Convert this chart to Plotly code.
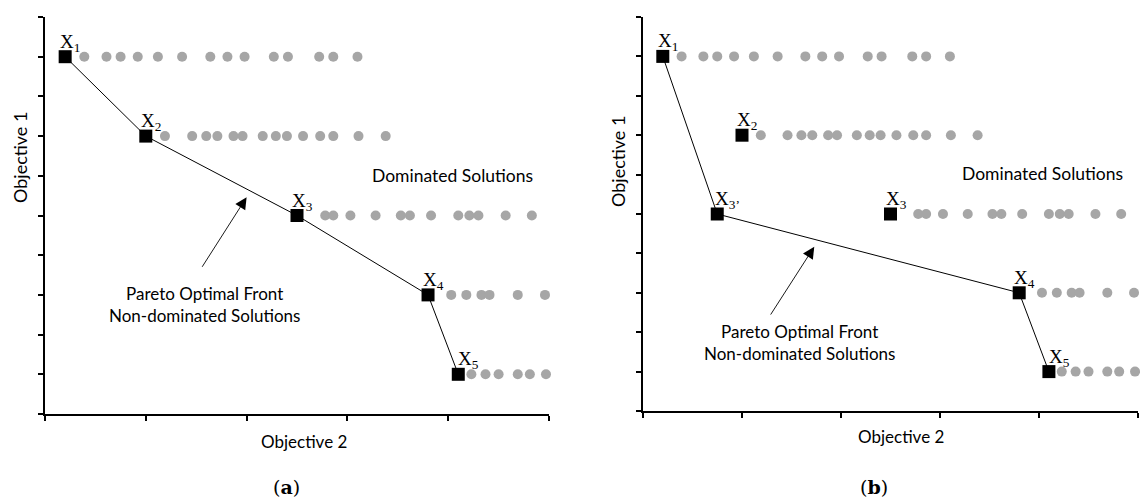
import plotly.graph_objects as go

# ---------------- data ----------------
# dominated solutions (same in both panels): x positions per objective-1 level
dom_y9 = [0.39, 0.61, 0.75, 0.92, 1.12, 1.36, 1.64, 1.81, 1.98, 2.27, 2.41, 2.72, 2.86, 3.10]
dom_y7 = [1.19, 1.46, 1.60, 1.71, 1.87, 1.96, 2.16, 2.29, 2.40, 2.56, 2.73, 2.86, 3.11, 3.38]
dom_y5 = [2.78, 2.86, 3.03, 3.28, 3.53, 3.62, 3.83, 4.10, 4.21, 4.30, 4.57, 4.83]
dom_y3 = [4.03, 4.18, 4.33, 4.41, 4.69, 4.96]
dom_y1 = [4.23, 4.37, 4.50, 4.69, 4.81, 4.97]
dom_levels = [9, 7, 5, 3, 1]

# panel (a) solutions
a_x = [0.2, 1.0, 2.5, 3.8, 4.1]
a_y = [9, 7, 5, 3, 1]
a_labels = ["X<sub>1</sub>", "X<sub>2</sub>", "X<sub>3</sub>", "X<sub>4</sub>", "X<sub>5</sub>"]
a_front = [0, 1, 2, 3, 4]

# panel (b) solutions
b_x = [0.2, 1.0, 0.75, 2.5, 3.8, 4.1]
b_y = [9, 7, 5, 5, 3, 1]
b_labels = ["X<sub>1</sub>", "X<sub>2</sub>", "X<sub>3’</sub>", "X<sub>3</sub>", "X<sub>4</sub>", "X<sub>5</sub>"]
b_front = [0, 2, 4, 5]

# arrow (tail -> tip) and texts, per panel
arrow_a = [(1.55, 3.67), (2.00, 5.46)]
arrow_b = [(1.28, 2.41), (1.73, 4.17)]
front_text = "Pareto Optimal Front<br>Non-dominated Solutions"
front_text_pos_a = (1.58, 2.77)
front_text_pos_b = (1.58, 1.73)
dom_text = "Dominated Solutions"
dom_text_pos_a = (4.04, 6.02)
dom_text_pos_b = (4.04, 6.04)

SANS = "Lato"
SERIF = "Liberation Serif"
CAPTION_SERIF = "DejaVu Serif"
W, H = 1140, 502

fig = go.Figure()

dom_rows = [dom_y9, dom_y7, dom_y5, dom_y3, dom_y1]


def add_panel(xa, ya, sx, sy, labels, front, arrow, ftxt_pos, dtxt_pos, shifts):
    for lvl, row in zip(dom_levels, dom_rows):
        fig.add_trace(go.Scatter(
            x=row, y=[lvl] * len(row), mode="markers",
            marker=dict(symbol="circle", size=10, color="#a6a6a6", line=dict(width=0)),
            xaxis=xa, yaxis=ya, showlegend=False, cliponaxis=False, hoverinfo="skip"))
    fig.add_trace(go.Scatter(
        x=[sx[i] for i in front], y=[sy[i] for i in front], mode="lines",
        line=dict(color="black", width=1), xaxis=xa, yaxis=ya,
        showlegend=False, hoverinfo="skip"))
    fig.add_trace(go.Scatter(
        x=sx, y=sy, mode="markers",
        marker=dict(symbol="square", size=13, color="black", line=dict(width=0)),
        xaxis=xa, yaxis=ya, showlegend=False, cliponaxis=False, hoverinfo="skip"))
    for x, y, lab, s in zip(sx, sy, labels, shifts):
        fig.add_annotation(x=x, y=y, xref=xa, yref=ya, text=lab, showarrow=False,
                           xanchor="left", yanchor="bottom", xshift=-7 + s, yshift=0,
                           font=dict(family=SERIF, size=19, color="black"))
    (tx, ty), (hx, hy) = arrow
    fig.add_annotation(x=hx, y=hy, ax=tx, ay=ty, xref=xa, yref=ya, axref=xa, ayref=ya,
                       text="", showarrow=True, arrowhead=2, arrowsize=2.6,
                       arrowwidth=0.9, arrowcolor="black", standoff=0)
    fig.add_annotation(x=ftxt_pos[0], y=ftxt_pos[1], xref=xa, yref=ya, text=front_text,
                       showarrow=False, xanchor="center", yanchor="middle", align="center",
                       font=dict(family=SANS, size=17, color="black"))
    fig.add_annotation(x=dtxt_pos[0], y=dtxt_pos[1], xref=xa, yref=ya, text=dom_text,
                       showarrow=False, xanchor="center", yanchor="middle",
                       font=dict(family=SANS, size=17.5, color="black"))


add_panel("x", "y", a_x, a_y, a_labels, a_front, arrow_a, front_text_pos_a, dom_text_pos_a,
          [0, 0, 0, 0, 5])
add_panel("x2", "y2", b_x, b_y, b_labels, b_front, arrow_b, front_text_pos_b, dom_text_pos_b,
          [0, 0, 3, 0, 0, 5])

axis_common = dict(showline=True, linecolor="black", linewidth=2, ticks="outside",
                   ticklen=5, tickwidth=2, tickcolor="black", showticklabels=False,
                   showgrid=False, zeroline=False, fixedrange=True)


def px_x(px):
    return px / W


def px_y(py):
    return (H - py) / H


fig.update_layout(
    width=W, height=H, margin=dict(l=0, r=0, t=0, b=0),
    plot_bgcolor="white", paper_bgcolor="white",
    xaxis=dict(domain=[px_x(45), px_x(549)], range=[0, 5], dtick=1, anchor="y", **axis_common),
    yaxis=dict(domain=[px_y(414), px_y(17)], range=[0, 10], dtick=1, anchor="x", **axis_common),
    xaxis2=dict(domain=[px_x(643), px_x(1138)], range=[0, 5], dtick=1, anchor="y2", **axis_common),
    yaxis2=dict(domain=[px_y(411), px_y(17)], range=[0, 10], dtick=1, anchor="x2", **axis_common),
)


def paper_text(px, py, text, family, size, angle=0):
    fig.add_annotation(x=px_x(px), y=px_y(py), xref="paper", yref="paper", text=text,
                       showarrow=False, xanchor="center", yanchor="middle", textangle=angle,
                       font=dict(family=family, size=size, color="black"))


paper_text(20, 158, "Objective 1", SANS, 18, -90)
paper_text(618, 162, "Objective 1", SANS, 18, -90)
paper_text(304, 441, "Objective 2", SANS, 17)
paper_text(901, 436, "Objective 2", SANS, 17)
paper_text(286, 487, "(<b>a</b>)", CAPTION_SERIF, 19)
paper_text(874, 487, "(<b>b</b>)", CAPTION_SERIF, 19)

# remove the default page margin so the figure fills the 1140x502 window exactly
fig.write_html("out.html",
               config={"displayModeBar": False, "staticPlot": True},
               post_script="document.body.style.margin='0';document.body.style.overflow='hidden';")
